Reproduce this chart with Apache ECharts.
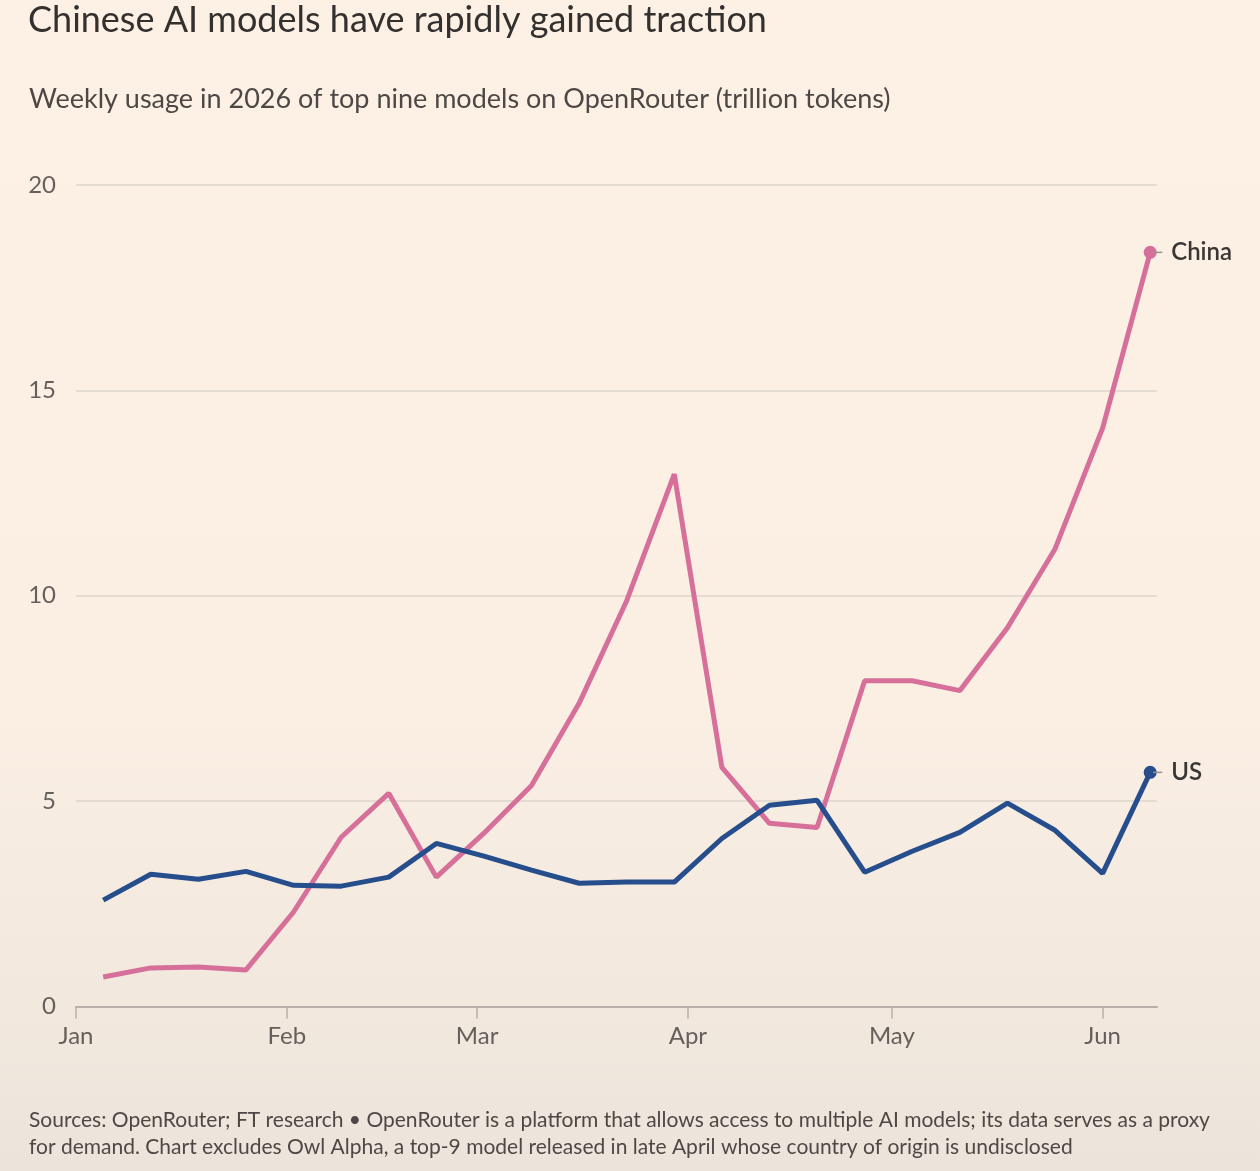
<!DOCTYPE html>
<html>
<head>
<meta charset="utf-8">
<script src="https://cdn.jsdelivr.net/npm/echarts@6/dist/echarts.min.js"></script>
<style>
html,body{margin:0;padding:0;width:1260px;height:1171px;overflow:hidden;}
#c{width:1260px;height:1171px;}
</style>
</head>
<body>
<div id="c"></div>
<script>
const weeks = ['2026-01-05','2026-01-12','2026-01-19','2026-01-26','2026-02-02','2026-02-09','2026-02-16','2026-02-23',
  '2026-03-02','2026-03-09','2026-03-16','2026-03-23','2026-03-30','2026-04-06','2026-04-13','2026-04-20','2026-04-27',
  '2026-05-04','2026-05-11','2026-05-18','2026-05-25','2026-06-01','2026-06-08'];
const china = [0.72,0.94,0.96,0.89,2.30,4.12,5.19,3.15,4.22,5.38,7.38,9.88,12.96,5.82,4.46,4.36,7.93,7.93,7.69,9.22,11.14,14.08,18.36];
const us = [2.59,3.22,3.10,3.29,2.95,2.93,3.15,3.97,3.66,3.32,3.00,3.03,3.03,4.09,4.90,5.02,3.27,3.78,4.24,4.95,4.29,3.24,5.70];
const yTicks = [0,5,10,15,20];

const FONT = 'Lato, "Noto Sans", sans-serif';
const chart = echarts.init(document.getElementById('c'), null, {renderer:'canvas'});
const last = weeks.length - 1;
function mk(name, vals, color){
  return {
    name: name, type: 'line',
    data: weeks.map((d,i)=>[d, vals[i]]),
    lineStyle: {color: color, width: 5},
    itemStyle: {color: color},
    symbol: 'circle',
    showSymbol: true, showAllSymbol: true,
    symbolSize: (v, p) => p.dataIndex === last ? 13 : 0,
    silent: true, animation: false,
    endLabel: {
      show: true, distance: 3,
      formatter: '{l|}{t|' + name + '}',
      rich: {
        l: {width: 9, height: 1.5, backgroundColor: '#9a938c'},
        t: {fontFamily: FONT, fontSize: 24, fontWeight: 600, color: '#3a3633', padding: [0,0,0,9]}
      }
    }
  };
}
chart.setOption({
  backgroundColor: new echarts.graphic.LinearGradient(0,0,0,1,[
    {offset:0, color:'#fdf1e6'},{offset:0.6, color:'#fbefe4'},{offset:1, color:'#ece4db'}]),
  animation: false,
  title: [
    {text: 'Chinese AI models have rapidly gained traction', left: 23, top: -3,
     textStyle: {fontFamily: FONT, fontSize: 36, fontWeight: 'normal', color: '#33302e'}},
    {text: 'Weekly usage in 2026 of top nine models on OpenRouter (trillion tokens)', left: 24, top: 81,
     textStyle: {fontFamily: FONT, fontSize: 27, fontWeight: 'normal', color: '#4d4845'}},
    {text: 'Sources: OpenRouter; FT research \u2022 OpenRouter is a platform that allows access to multiple AI models; its data serves as a proxy\nfor demand. Chart excludes Owl Alpha, a top-9 model released in late April whose country of origin is undisclosed',
     left: 24, top: 1102,
     textStyle: {fontFamily: FONT, fontSize: 21, fontWeight: 'normal', color: '#4d4845', lineHeight: 27}}
  ],
  grid: {left: 76, right: 103, top: 185, bottom: 164.5, containLabel: false},
  xAxis: {
    type: 'time',
    min: '2026-01-01', max: '2026-06-09',
    splitNumber: 6,
    axisLine: {show: true, lineStyle: {color: '#b8b0a8', width: 2}},
    axisTick: {show: true, length: 12, lineStyle: {color: '#b8b0a8', width: 1.5}},
    splitLine: {show: false},
    axisLabel: {formatter: '{MMM}', fontFamily: FONT, fontSize: 24, color: '#66605c', margin: 18, showMinLabel: true},
    minorTick: {show: false}
  },
  yAxis: {
    type: 'value', min: yTicks[0], max: yTicks[yTicks.length-1], interval: 5,
    axisLine: {show: false}, axisTick: {show: false},
    splitLine: {lineStyle: {color: '#ddd4cb', width: 1.5}},
    axisLabel: {fontFamily: FONT, fontSize: 24, color: '#66605c', margin: 20}
  },
  series: [mk('China', china, '#d6709a'), mk('US', us, '#264d8c')]
});
</script>
</body>
</html>
